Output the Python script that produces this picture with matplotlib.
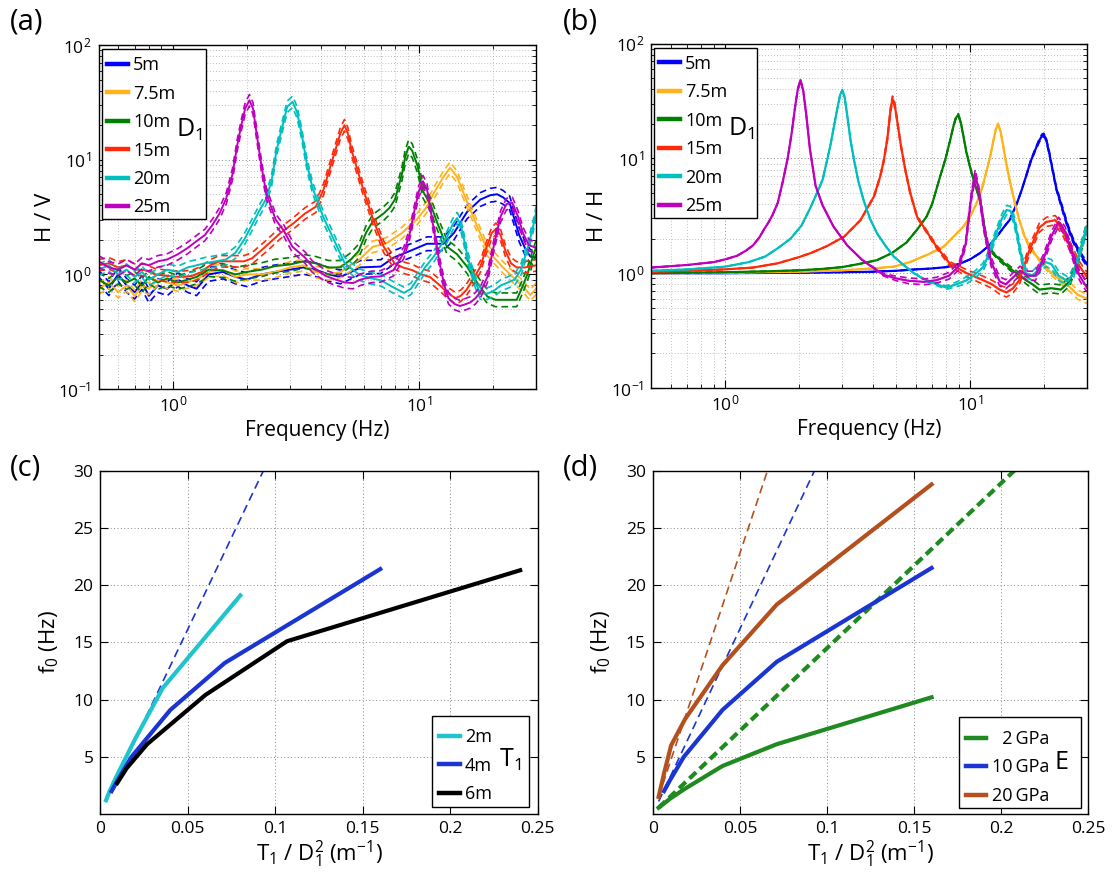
import numpy as np
import matplotlib
matplotlib.use("Agg")
import matplotlib.pyplot as plt
from matplotlib.patches import Rectangle
from matplotlib.ticker import LogLocator, NullFormatter

plt.rcParams['font.family'] = ['Open Sans', 'DejaVu Sans']
plt.rcParams['mathtext.fontset'] = 'custom'
plt.rcParams['mathtext.rm'] = 'Open Sans'
plt.rcParams['mathtext.it'] = 'Open Sans:italic'
plt.rcParams['mathtext.bf'] = 'Open Sans:bold'

# ---------------- data ----------------
labels_d = ['5m', '7.5m', '10m', '15m', '20m', '25m']
colors_d = ['#0000ff', '#ffb21a', '#008000', '#ff2a0a', '#00bfbf', '#bf00bf']

# (a) H/V mean curves (frequency Hz, ratio)
hv_5m = [(0.5, 0.95), (0.55, 0.75), (0.6, 1.0), (0.65, 0.8), (0.7, 0.7), (0.75, 0.85), (0.8, 0.65),
         (0.87, 0.8), (0.95, 0.75), (1.05, 0.9), (1.15, 0.8), (1.25, 0.75), (1.4, 1.0), (1.6, 1.05),
         (1.8, 0.95), (2.0, 0.9), (2.3, 1.0), (2.6, 1.05), (3.0, 1.1), (3.4, 1.15), (3.8, 1.1),
         (4.3, 1.0), (4.8, 0.95), (5.3, 1.05), (5.8, 1.15), (7.0, 1.17), (7.9, 1.4), (9.2, 1.6),
         (10.8, 1.85), (12.6, 1.85), (13.9, 2.3), (15.7, 3.5), (17.8, 4.5), (19.5, 4.9), (20.8, 5.0),
         (22.0, 4.7), (23.4, 4.2), (24.5, 3.0), (25.6, 2.2), (27.0, 1.7), (28.4, 1.43), (30.0, 1.4)]
hv_7p5m = [(0.5, 0.75), (0.55, 0.85), (0.6, 0.7), (0.65, 0.8), (0.7, 0.65), (0.75, 0.8), (0.8, 0.75),
           (0.87, 0.9), (0.95, 0.85), (1.05, 0.8), (1.15, 0.85), (1.25, 0.9), (1.4, 1.05), (1.6, 1.1),
           (1.8, 0.95), (2.0, 1.0), (2.3, 1.0), (2.6, 1.05), (3.0, 1.15), (3.4, 1.2), (3.8, 1.05),
           (4.3, 1.0), (4.8, 1.05), (5.3, 1.2), (5.7, 1.33), (6.5, 1.74), (7.4, 1.87), (8.5, 2.28),
           (9.8, 3.0), (10.8, 3.9), (11.5, 5.1), (12.6, 7.1), (13.4, 8.5), (14.3, 7.1), (15.6, 4.45),
           (17.3, 2.6), (19.0, 1.63), (21.8, 1.17), (24.1, 0.95), (26.6, 0.78), (28.4, 0.66), (30.0, 0.75)]
hv_10m = [(0.5, 0.9), (0.55, 0.8), (0.6, 0.95), (0.65, 0.85), (0.7, 0.92), (0.75, 0.8), (0.8, 0.95),
          (0.87, 0.85), (0.95, 0.92), (1.05, 0.85), (1.15, 0.9), (1.25, 0.95), (1.4, 1.1), (1.6, 1.08),
          (1.8, 1.0), (2.0, 1.05), (2.3, 1.1), (2.6, 1.18), (3.0, 1.22), (3.4, 1.3), (3.8, 1.25),
          (4.3, 1.15), (4.8, 1.15), (5.3, 1.35), (5.7, 1.6), (6.1, 2.3), (6.5, 2.9), (7.2, 3.4),
          (7.6, 3.8), (8.0, 4.5), (8.3, 6.0), (8.55, 7.6), (8.8, 10.5), (9.1, 13.0), (9.4, 12.0),
          (9.9, 8.7), (10.4, 5.3), (11.2, 4.0), (11.9, 2.8), (13.0, 1.75), (14.3, 1.5), (15.7, 1.17),
          (17.3, 0.84), (19.0, 0.64), (20.5, 0.6), (22.0, 0.6), (23.5, 0.6), (25.0, 0.6), (26.5, 0.8),
          (27.6, 1.0), (29.0, 1.4), (30.0, 1.74)]
hv_15m = [(0.5, 1.2), (0.55, 1.25), (0.6, 1.15), (0.65, 1.2), (0.7, 1.1), (0.77, 1.09), (0.85, 1.0),
          (0.95, 0.97), (1.07, 0.95), (1.2, 0.97), (1.31, 1.05), (1.42, 1.2), (1.55, 1.3), (1.75, 1.3),
          (1.95, 1.3), (2.1, 1.38), (2.35, 1.7), (2.73, 2.28), (3.1, 2.8), (3.45, 3.4), (3.82, 3.9),
          (4.1, 5.5), (4.37, 8.7), (4.6, 12.5), (4.8, 17.0), (4.99, 20.0), (5.15, 17.0), (5.33, 12.1),
          (5.6, 8.5), (5.9, 5.8), (6.2, 4.2), (6.53, 3.0), (7.2, 1.74), (7.97, 1.25), (8.6, 1.15),
          (9.4, 1.09), (10.2, 1.0), (11.1, 0.95), (12.2, 0.8), (13.2, 0.68), (14.1, 0.62), (14.8, 0.65),
          (15.6, 0.73), (16.7, 0.92), (17.8, 1.17), (18.8, 1.7), (19.8, 2.3), (20.6, 2.5), (21.5, 2.2),
          (22.5, 1.6), (23.7, 1.25), (25.0, 1.15), (27.0, 1.15), (30.0, 1.2)]
hv_20m = [(0.5, 1.1), (0.55, 1.2), (0.6, 1.0), (0.65, 1.1), (0.7, 0.95), (0.75, 1.05), (0.8, 0.9),
          (0.87, 1.0), (0.95, 1.1), (1.05, 1.05), (1.15, 1.15), (1.25, 1.2), (1.35, 1.25), (1.5, 1.3),
          (1.65, 1.35), (1.8, 1.55), (1.95, 2.0), (2.1, 2.7), (2.25, 3.6), (2.39, 4.5), (2.52, 6.5),
          (2.64, 12.0), (2.78, 19.0), (2.92, 29.0), (3.07, 32.0), (3.2, 26.0), (3.34, 17.0), (3.5, 9.5),
          (3.69, 5.8), (4.08, 3.2), (4.52, 2.0), (5.0, 1.25), (5.7, 1.0), (6.3, 0.93), (7.0, 0.89),
          (7.8, 0.78), (8.7, 0.69), (9.3, 0.75), (9.8, 0.89), (10.6, 1.15), (11.5, 1.43), (12.3, 1.8),
          (13.0, 2.1), (13.7, 2.7), (14.3, 3.1), (14.8, 2.7), (15.2, 2.1), (15.7, 1.5), (16.2, 1.17),
          (17.0, 0.85), (17.8, 0.68), (19.0, 0.68), (20.2, 0.72), (21.5, 0.8), (23.0, 0.85),
          (24.5, 0.9), (26.0, 1.1), (27.5, 1.6), (29.0, 2.5), (30.0, 3.5)]
hv_25m = [(0.5, 1.3), (0.55, 1.15), (0.6, 1.1), (0.65, 1.2), (0.7, 1.1), (0.75, 1.25), (0.8, 1.2),
          (0.87, 1.3), (0.95, 1.35), (1.05, 1.5), (1.15, 1.7), (1.25, 1.95), (1.35, 2.2), (1.45, 2.7),
          (1.55, 3.4), (1.65, 4.6), (1.75, 7.5), (1.83, 13.5), (1.9, 20.0), (1.97, 28.0), (2.05, 33.0),
          (2.12, 28.0), (2.2, 16.0), (2.3, 8.5), (2.4, 5.1), (2.62, 3.0), (2.83, 2.4), (3.06, 1.75),
          (3.45, 1.4), (3.69, 1.17), (4.18, 0.97), (4.6, 0.9), (5.0, 0.85), (5.4, 0.84), (5.8, 0.9),
          (6.4, 0.95), (7.0, 0.96), (7.9, 1.09), (8.7, 1.55), (9.2, 2.3), (9.6, 3.6), (10.0, 5.3),
          (10.4, 6.5), (10.8, 5.5), (11.2, 3.5), (11.7, 2.0), (12.2, 1.2), (12.7, 0.8), (13.2, 0.62),
          (14.0, 0.55), (14.7, 0.53), (15.5, 0.55), (16.2, 0.57), (17.0, 0.62), (17.8, 0.7),
          (19.0, 0.95), (20.2, 1.8), (21.5, 3.2), (22.7, 4.1), (24.0, 4.2), (25.3, 3.2), (26.5, 2.3),
          (28.0, 1.8), (30.0, 1.7)]
# half-width of the dashed band (log10 units), one per depth
spread_a = [0.06, 0.05, 0.06, 0.05, 0.05, 0.05]

# (b) H/H mean curves (frequency Hz, ratio, band half-width in log10)
hh_5m = [(0.5, 1.0, 0), (1.0, 1.0, 0), (2.0, 1.01, 0), (3.0, 1.02, 0), (4.0, 1.03, 0), (5.0, 1.05, 0),
         (6.0, 1.08, 0), (7.0, 1.1, 0), (8.0, 1.13, 0), (9.0, 1.2, 0), (10.0, 1.32, 0), (11.0, 1.5, 0),
         (12.0, 1.75, 0), (13.0, 2.15, 0), (14.0, 2.65, 0), (14.5, 2.9, 0), (15.5, 4.0, 0), (16.2, 5.2, 0),
         (16.9, 6.9, 0.005), (17.7, 9.5, 0.01), (18.5, 12.0, 0.01), (19.2, 14.4, 0.015), (19.7, 15.8, 0.015),
         (20.0, 16.0, 0.015), (20.4, 15.0, 0.015), (21.0, 11.5, 0.015), (21.6, 8.5, 0.015), (22.5, 5.5, 0.015),
         (23.7, 3.8, 0.02), (25.0, 2.6, 0.02), (26.3, 1.95, 0.02), (28.0, 1.5, 0.02), (30.0, 1.2, 0.02)]
hh_7p5m = [(0.5, 1.0, 0), (1.0, 1.01, 0), (2.0, 1.03, 0), (3.0, 1.06, 0), (4.0, 1.1, 0), (4.88, 1.14, 0),
           (5.69, 1.25, 0), (6.7, 1.45, 0), (7.8, 1.7, 0), (8.6, 2.1, 0), (9.4, 2.55, 0), (10.0, 3.1, 0),
           (10.6, 4.0, 0), (11.2, 5.5, 0), (11.7, 7.9, 0), (12.1, 10.5, 0), (12.4, 13.6, 0), (12.7, 17.5, 0),
           (13.0, 20.0, 0.005), (13.3, 17.5, 0.005), (13.6, 13.6, 0.005), (14.0, 9.5, 0.005), (14.5, 6.5, 0.005),
           (15.2, 4.2, 0.005), (15.9, 2.9, 0.005), (16.7, 2.1, 0.01), (17.5, 1.7, 0.01), (19.2, 1.3, 0.01),
           (21.0, 1.05, 0.02), (23.0, 0.9, 0.03), (25.5, 0.76, 0.04), (27.5, 0.65, 0.04), (30.0, 0.6, 0.04)]
hh_10m = [(0.5, 1.0, 0), (1.0, 1.02, 0), (1.5, 1.04, 0), (2.0, 1.06, 0), (2.5, 1.09, 0), (3.0, 1.13, 0),
          (3.5, 1.2, 0), (4.17, 1.3, 0), (4.8, 1.5, 0), (5.5, 1.85, 0), (6.08, 2.4, 0), (6.64, 3.1, 0),
          (7.0, 4.0, 0), (7.54, 6.9, 0), (7.95, 10.0, 0), (8.3, 14.5, 0), (8.55, 19.0, 0.005),
          (8.75, 22.5, 0.01), (8.95, 24.0, 0.01), (9.15, 21.0, 0.01), (9.38, 16.0, 0.005), (9.65, 11.5, 0.005),
          (9.99, 8.5, 0.005), (10.5, 5.8, 0.005), (11.0, 4.3, 0.005), (11.4, 2.7, 0.01), (11.7, 1.8, 0.01),
          (12.4, 1.5, 0.01), (13.3, 1.3, 0.015), (15.0, 1.05, 0.02), (16.9, 0.87, 0.03), (18.0, 0.8, 0.04),
          (19.2, 0.72, 0.04), (21.5, 0.74, 0.04), (23.5, 0.72, 0.04), (25.5, 0.85, 0.04), (27.5, 1.3, 0.04),
          (30.0, 2.55, 0.04)]
hh_15m = [(0.5, 1.03, 0), (0.7, 1.05, 0), (1.0, 1.08, 0), (1.3, 1.12, 0), (1.64, 1.22, 0), (2.0, 1.38, 0),
          (2.24, 1.5, 0), (2.6, 1.72, 0), (3.06, 2.08, 0), (3.57, 2.9, 0), (4.05, 4.65, 0.005), (4.3, 7.0, 0.01),
          (4.45, 9.7, 0.015), (4.6, 15.0, 0.02), (4.73, 26.0, 0.025), (4.82, 33.0, 0.025), (4.9, 31.0, 0.025),
          (5.0, 24.0, 0.02), (5.2, 13.6, 0.015), (5.45, 7.8, 0.01), (5.7, 5.0, 0.01), (6.08, 3.1, 0.01),
          (6.45, 2.55, 0.01), (7.3, 1.7, 0.015), (8.3, 1.2, 0.02), (9.7, 1.0, 0.03), (11.3, 0.87, 0.035),
          (12.3, 0.8, 0.035), (13.2, 0.72, 0.04), (14.1, 0.68, 0.04), (15.0, 0.74, 0.04), (15.9, 0.87, 0.04),
          (17.5, 1.6, 0.04), (19.2, 2.5, 0.04), (20.5, 2.8, 0.04), (22.3, 2.9, 0.04), (24.0, 2.3, 0.04),
          (26.0, 1.6, 0.04), (28.0, 1.15, 0.04), (30.0, 0.93, 0.04)]
hh_20m = [(0.5, 1.05, 0), (0.7, 1.08, 0), (1.0, 1.14, 0), (1.25, 1.25, 0), (1.46, 1.4, 0), (1.64, 1.65, 0),
          (1.85, 2.0, 0), (2.05, 2.6, 0), (2.24, 3.8, 0), (2.4, 5.3, 0), (2.5, 6.5, 0), (2.61, 9.7, 0),
          (2.7, 13.5, 0), (2.78, 18.9, 0), (2.87, 27.0, 0), (2.95, 36.0, 0.005), (3.01, 39.0, 0.01),
          (3.07, 35.0, 0.005), (3.15, 24.0, 0), (3.25, 14.5, 0), (3.36, 9.7, 0), (3.5, 6.3, 0), (3.68, 4.3, 0),
          (3.9, 3.0, 0), (4.17, 2.23, 0), (4.5, 1.75, 0), (4.88, 1.4, 0), (5.3, 1.2, 0), (5.9, 1.0, 0),
          (6.6, 0.87, 0.005), (7.3, 0.8, 0.01), (8.0, 0.75, 0.015), (8.8, 0.8, 0.02), (9.7, 0.87, 0.03),
          (10.5, 0.98, 0.03), (11.3, 1.13, 0.035), (12.0, 1.5, 0.035), (12.8, 2.23, 0.04), (13.5, 3.0, 0.04),
          (14.1, 3.55, 0.04), (14.6, 3.5, 0.04), (15.0, 3.1, 0.04), (15.5, 2.3, 0.04), (15.9, 1.7, 0.04),
          (16.4, 1.25, 0.04), (16.9, 1.0, 0.04), (18.0, 0.95, 0.04), (19.2, 1.1, 0.04), (20.3, 1.25, 0.04),
          (21.5, 1.2, 0.04), (23.0, 0.95, 0.04), (25.0, 0.85, 0.04), (26.5, 1.0, 0.04), (28.0, 1.5, 0.04),
          (30.0, 2.5, 0.04)]
hh_25m = [(0.5, 1.12, 0), (0.7, 1.18, 0), (0.9, 1.25, 0), (1.0, 1.32, 0), (1.12, 1.42, 0), (1.22, 1.58, 0),
          (1.3, 1.75, 0), (1.38, 2.05, 0), (1.44, 2.4, 0), (1.5, 2.75, 0),
          (1.56, 3.2, 0), (1.64, 4.1, 0), (1.72, 6.3, 0), (1.8, 10.0, 0), (1.87, 16.7, 0), (1.93, 28.0, 0.005),
          (1.98, 40.0, 0.01), (2.03, 48.0, 0.01), (2.08, 40.0, 0.01), (2.14, 25.0, 0.005), (2.22, 12.0, 0),
          (2.34, 5.8, 0), (2.5, 3.9, 0), (2.77, 2.55, 0), (3.15, 1.75, 0), (3.62, 1.31, 0), (4.43, 0.97, 0.01),
          (5.0, 0.9, 0.02), (5.6, 0.86, 0.025), (6.5, 0.84, 0.025), (7.3, 0.87, 0.025), (8.2, 0.95, 0.03),
          (9.0, 1.15, 0.03), (9.6, 1.8, 0.03), (10.1, 4.5, 0.035), (10.5, 7.3, 0.04), (10.9, 5.0, 0.04),
          (11.4, 2.5, 0.04), (12.2, 1.25, 0.04), (13.2, 0.85, 0.04), (14.0, 0.8, 0.04), (15.0, 0.92, 0.04),
          (16.0, 1.05, 0.04), (17.2, 0.95, 0.04), (18.5, 0.95, 0.04), (20.0, 1.35, 0.04), (21.5, 2.1, 0.04),
          (23.0, 2.8, 0.04), (24.5, 2.3, 0.04), (26.5, 1.35, 0.04), (28.0, 0.95, 0.04), (30.0, 0.75, 0.04)]

# (c) f0 against T1/D1^2 for three T1
t1_labels = ['2m', '4m', '6m']
t1_colors = ['#20c4cc', '#1a35d2', '#000000']
x_t2 = [0.0032, 0.005, 0.0089, 0.02, 0.0356, 0.08]
f_t2 = [1.2, 1.9, 3.2, 6.6, 11.0, 19.1]
x_t4 = [0.0064, 0.01, 0.0178, 0.04, 0.0711, 0.16]
f_t4 = [2.0, 3.0, 5.0, 9.1, 13.2, 21.4]
x_t6 = [0.0096, 0.015, 0.0267, 0.06, 0.1067, 0.24]
f_t6 = [2.7, 4.0, 6.1, 10.4, 15.1, 21.3]
x_thin_c = [0.003, 0.0932]
f_thin_c = [1.1, 30.0]

# (d) f0 against T1/D1^2 for three Young's moduli
e_labels = ['\u20072\u2009GPa', '10\u2009GPa', '20\u2009GPa']
e_colors = ['#1f8a1f', '#1a35d2', '#b4501e']
x_e2 = [0.0033, 0.01, 0.0178, 0.04, 0.0711, 0.16]
f_e2 = [0.55, 1.35, 2.15, 4.2, 6.1, 10.2]
x_e10 = [0.0064, 0.01, 0.0178, 0.04, 0.0711, 0.16]
f_e10 = [2.0, 3.0, 5.0, 9.1, 13.3, 21.5]
x_e20 = [0.0033, 0.0065, 0.0105, 0.0185, 0.04, 0.0711, 0.16]
f_e20 = [1.5, 3.6, 6.0, 8.3, 13.0, 18.3, 28.8]
x_thin_e2 = [0.0033, 0.2075]
f_thin_e2 = [0.55, 30.0]
x_thin_e10 = [0.0033, 0.0928]
f_thin_e10 = [1.1, 30.0]
x_thin_e20 = [0.0033, 0.0658]
f_thin_e20 = [1.5, 30.0]

# ---------------- drawing ----------------
fig = plt.figure(figsize=(11.12, 8.77), dpi=100)
ax_a = fig.add_axes([0.0887, 0.5564, 0.3935, 0.3922])
ax_b = fig.add_axes([0.5858, 0.5576, 0.3916, 0.3926])
ax_c = fig.add_axes([0.0903, 0.0718, 0.3932, 0.3915])
ax_d = fig.add_axes([0.5871, 0.0718, 0.3916, 0.3915])

TICK = 12.5


def style_log(ax, ylab):
    ax.set_xscale('log')
    ax.set_yscale('log')
    ax.set_xlim(0.5, 30)
    ax.set_ylim(0.1, 100)
    ax.xaxis.set_major_locator(LogLocator(base=10, numticks=10))
    ax.xaxis.set_minor_locator(LogLocator(base=10, subs=np.arange(2, 10), numticks=20))
    ax.yaxis.set_minor_locator(LogLocator(base=10, subs=np.arange(2, 10), numticks=20))
    ax.xaxis.set_minor_formatter(NullFormatter())
    ax.yaxis.set_minor_formatter(NullFormatter())
    ax.grid(True, which='major', ls=(0, (1, 2.5)), color='#888888', lw=0.7)
    ax.grid(True, which='minor', ls=(0, (1, 2.5)), color='#aaaaaa', lw=0.6)
    ax.tick_params(which='both', direction='in', top=True, right=True, labelsize=TICK)
    ax.tick_params(which='major', length=6, pad=5)
    ax.tick_params(which='minor', length=3)
    ax.set_xlabel('Frequency (Hz)', fontsize=15, labelpad=3)
    ax.set_ylabel(ylab, fontsize=16, labelpad=2)
    for s in ax.spines.values():
        s.set_linewidth(1.0)


def style_lin(ax):
    ax.set_xlim(0, 0.25)
    ax.set_ylim(0, 30)
    ax.set_xticks([0, 0.05, 0.1, 0.15, 0.2, 0.25])
    ax.set_xticklabels(['0', '0.05', '0.1', '0.15', '0.2', '0.25'])
    ax.set_yticks([5, 10, 15, 20, 25, 30])
    ax.grid(True, ls=(0, (1, 2.5)), color='#888888', lw=0.7)
    ax.tick_params(direction='in', top=True, right=True, labelsize=TICK, length=6, pad=5)
    ax.set_xlabel(r'T$_1$ / D$_1^2$ (m$^{-1}$)', fontsize=16, labelpad=1)
    ax.set_ylabel(r'f$_0$ (Hz)', fontsize=16, labelpad=9)
    for s in ax.spines.values():
        s.set_linewidth(1.0)


def legend_box(ax, box, off, tag, tag_xy):
    # frame drawn by hand so the side label fits inside it
    x0, y0, x1, y1 = box
    ax.add_patch(Rectangle((x0, y0), x1 - x0, y1 - y0, transform=ax.transAxes, fc='white',
                           ec='black', lw=1.0, zorder=8, clip_on=False))
    lg = ax.legend(loc='upper left', bbox_to_anchor=(x0 + off[0], y1 - off[1]), fontsize=13,
                   handlelength=1.15, handletextpad=0.3, labelspacing=0.58, borderpad=0.0,
                   borderaxespad=0, frameon=False)
    lg.set_zorder(9)
    for h in lg.legend_handles:
        h.set_linewidth(3.2)
        h.set_linestyle('-')
    ax.text(tag_xy[0], tag_xy[1], tag, transform=ax.transAxes, fontsize=18, ha='left', va='center',
            zorder=10)


# (a)
style_log(ax_a, 'H / V')
for curve, lab, col, sd in zip([hv_5m, hv_7p5m, hv_10m, hv_15m, hv_20m, hv_25m], labels_d, colors_d, spread_a):
    f, v = np.array(curve).T
    ax_a.plot(f, v * 10 ** sd, ls=(0, (4, 2.5)), color=col, lw=1.2)
    ax_a.plot(f, v / 10 ** sd, ls=(0, (4, 2.5)), color=col, lw=1.2)
    ax_a.plot(f, v, color=col, lw=1.4, label=lab)
legend_box(ax_a, (0.008, 0.494, 0.245, 0.988), (0.011, 0.02), r'D$_1$', (0.176, 0.753))

# (b)
style_log(ax_b, 'H / H')
for curve, lab, col in zip([hh_5m, hh_7p5m, hh_10m, hh_15m, hh_20m, hh_25m], labels_d, colors_d):
    f, v, sd = np.array(curve).T
    ax_b.plot(f, v * 10 ** sd, ls=(0, (4, 2.5)), color=col, lw=1.2)
    ax_b.plot(f, v / 10 ** sd, ls=(0, (4, 2.5)), color=col, lw=1.2)
    ax_b.plot(f, v, color=col, lw=1.6, label=lab)
legend_box(ax_b, (0.006, 0.494, 0.242, 0.988), (0.011, 0.02), r'D$_1$', (0.176, 0.752))

# (c)
style_lin(ax_c)
ax_c.plot(x_thin_c, f_thin_c, color=t1_colors[1], lw=1.2, ls=(0, (5, 3)))
for x, f, lab, col in zip([x_t2, x_t4, x_t6], [f_t2, f_t4, f_t6], t1_labels, t1_colors):
    ax_c.plot(x, f, color=col, lw=3.0, label=lab)
legend_box(ax_c, (0.758, 0.02, 0.98, 0.285), (0.016, 0.035), r'T$_1$', (0.912, 0.157))

# (d)
style_lin(ax_d)
ax_d.plot(x_thin_e20, f_thin_e20, color=e_colors[2], lw=1.2, ls=(0, (5, 3)))
ax_d.plot(x_thin_e10, f_thin_e10, color=e_colors[1], lw=1.2, ls=(0, (5, 3)))
ax_d.plot(x_thin_e2, f_thin_e2, color=e_colors[0], lw=3.0, ls=(0, (2.2, 1.2)))
for x, f, lab, col in zip([x_e2, x_e10, x_e20], [f_e2, f_e10, f_e20], e_labels, e_colors):
    ax_d.plot(x, f, color=col, lw=3.0, label=lab)
legend_box(ax_d, (0.704, 0.017, 0.984, 0.283), (0.014, 0.038), 'E', (0.923, 0.149))

fig.text(0.009, 0.992, '(a)', fontsize=21, ha='left', va='top')
fig.text(0.506, 0.992, '(b)', fontsize=21, ha='left', va='top')
fig.text(0.009, 0.483, '(c)', fontsize=21, ha='left', va='top')
fig.text(0.506, 0.483, '(d)', fontsize=21, ha='left', va='top')

fig.savefig('out.png', dpi=100)
